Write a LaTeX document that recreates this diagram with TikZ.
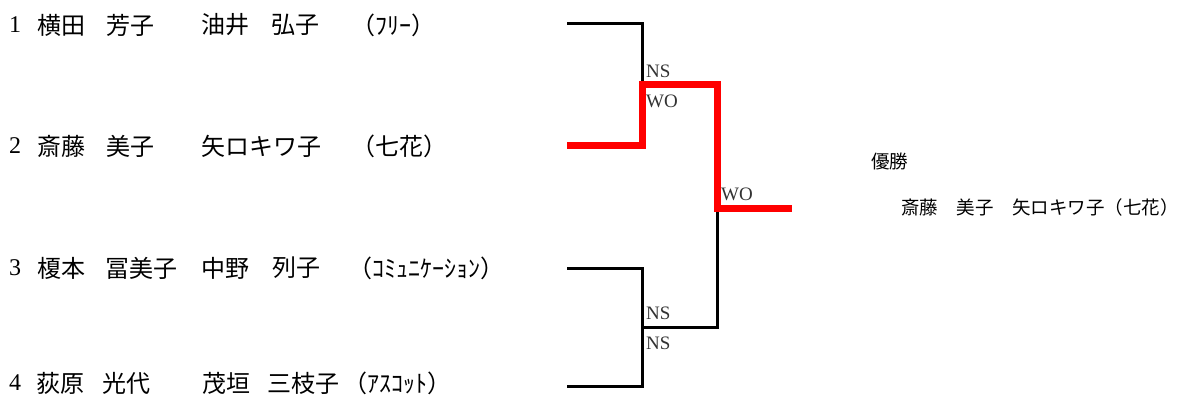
\documentclass[tikz,border=0pt]{standalone}
\usepackage{fontspec}
\newfontfamily\jpfont{Noto Sans CJK JP}
\newfontfamily\latfont{Liberation Serif}
\usetikzlibrary{positioning}

\begin{document}
\begin{tikzpicture}[x=1pt,y=-1pt,inner sep=0pt,
	player/.style={anchor=west,font=\jpfont\fontsize{24}{24}\selectfont},
	seed/.style={anchor=west,font=\latfont\fontsize{24}{24}\selectfont},
	result/.style={anchor=west,font=\latfont\fontsize{19}{19}\selectfont,text=black!80},
	champ/.style={anchor=west,font=\jpfont\fontsize{18.5}{18.5}\selectfont},
	branch/.style={line width=3pt,black},
	winpath/.style={line width=7pt,red}]

\useasboundingbox (0,0) rectangle (1187,400);

\node[seed]   (s1) at (9,25)    {1};
\node[player] (a1) at (37,25)   {横田};
\node[player] (b1) at (106,25)  {芳子};
\node[player] (c1) at (201,25)  {油井};
\node[player] (d1) at (271,25)  {弘子};
\node[player] (t1) at (351,25)  {（ﾌﾘｰ）};

\node[seed]   (s2) at (9,146)   {2};
\node[player] (a2) at (37,146)  {斎藤};
\node[player] (b2) at (106,146) {美子};
\node[player] (c2) at (201,146) {矢ロキワ子};
\node[player] (t2) at (351,146) {（七花）};

\node[seed]   (s3) at (9,268)   {3};
\node[player] (a3) at (37,268)  {榎本};
\node[player] (b3) at (105,268) {冨美子};
\node[player] (c3) at (201,268) {中野};
\node[player] (d3) at (272,268) {列子};
\node[player] (t3) at (348,268) {（ｺﾐｭﾆｹｰｼｮﾝ）};

\node[seed]   (s4) at (9,383)   {4};
\node[player] (a4) at (36,383)  {荻原};
\node[player] (b4) at (102,383) {光代};
\node[player] (c4) at (202,383) {茂垣};
\node[player] (d4) at (267,383) {三枝子};
\node[player] (t4) at (343,383) {（ｱｽｺｯﾄ）};

\coordinate (e1) at (567,23);
\coordinate (e2) at (567,145);
\coordinate (e3) at (567,268);
\coordinate (e4) at (567,386);
\coordinate (m1) at (642,84);
\coordinate (m2) at (642,327);
\coordinate (fin) at (717,208);
\coordinate (top) at (792,208);

\draw[branch] (e1) -| (m1);
\draw[branch] (e3) -| (m2);
\draw[branch] (e4) -| (m2);
\draw[branch] (m2) -| (fin);
\draw[winpath] (e2) -| (m1) -| (fin) -- (top);

\node[result] (r1) at (646,71)  {NS};
\node[result] (r2) at (646,101) {WO};
\node[result] (r3) at (646,313) {NS};
\node[result] (r4) at (646,343) {NS};
\node[result] (r5) at (721,194) {WO};

\node[champ] (v)  at (871,161) {優勝};
\node[champ] (vn) at (901,207) {斎藤　美子　矢ロキワ子（七花）};

\end{tikzpicture}
\end{document}
